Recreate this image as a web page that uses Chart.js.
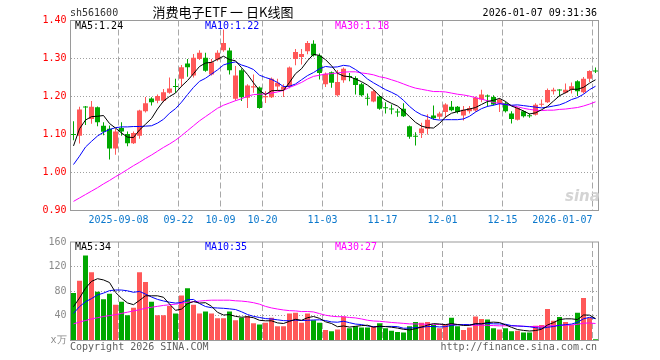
<!DOCTYPE html>
<html>
<head>
<meta charset="utf-8">
<script src="https://cdn.jsdelivr.net/npm/chart.js@4.4.1/dist/chart.umd.min.js"></script>
<style>
html,body{margin:0;padding:0;background:#fff;}
#wrap{position:relative;width:660px;height:360px;overflow:hidden;}
canvas{position:absolute;left:0;}
.t{position:absolute;font-family:"DejaVu Sans Mono",monospace;font-size:10px;line-height:12px;white-space:pre;z-index:2;}
</style>
</head>
<body>
<div id="wrap">
<canvas id="k" width="660" height="232" style="top:0"></canvas>
<canvas id="v" width="660" height="128" style="top:232px"></canvas>
<div class="t" style="left:70px;top:7px;color:#333">sh561600</div>
<div class="t" style="left:150px;top:4px;width:146px;text-align:center;font-family:'Noto Sans CJK SC';font-size:13px;line-height:16px;color:#000">消费电子ETF 一 日K线图</div>
<div class="t" style="right:63px;top:7px;color:#000">2026-01-07 09:31:36</div>
<div class="t" style="left:75px;top:20px;color:#000">MA5:1.24</div>
<div class="t" style="left:205px;top:20px;color:#0000ff">MA10:1.22</div>
<div class="t" style="left:335px;top:20px;color:#ff00ff">MA30:1.18</div>
<div class="t" style="left:75px;top:241px;color:#000">MA5:34</div>
<div class="t" style="left:205px;top:241px;color:#0000ff">MA10:35</div>
<div class="t" style="left:335px;top:241px;color:#ff00ff">MA30:27</div>
<div class="t" style="left:70px;top:341px;color:#606060">Copyright 2026 SINA.COM</div>
<div class="t" style="right:63px;top:341px;color:#606060">http://finance.sina.com.cn</div>
<div class="t" style="left:565px;top:187px;font-family:'DejaVu Sans';font-weight:bold;font-style:italic;font-size:15px;line-height:18px;color:#d4d4d4;z-index:1">sina</div>
</div>
<script>
const dates = ['2025-08-27','2025-08-28','2025-08-29','2025-09-01','2025-09-02','2025-09-03','2025-09-04','2025-09-05',
'2025-09-08','2025-09-09','2025-09-10','2025-09-11','2025-09-12','2025-09-15','2025-09-16','2025-09-17','2025-09-18','2025-09-19',
'2025-09-22','2025-09-23','2025-09-24','2025-09-25','2025-09-26','2025-09-29','2025-09-30','2025-10-09','2025-10-10',
'2025-10-13','2025-10-14','2025-10-15','2025-10-16','2025-10-17','2025-10-20','2025-10-21','2025-10-22','2025-10-23','2025-10-24',
'2025-10-27','2025-10-28','2025-10-29','2025-10-30','2025-10-31','2025-11-03','2025-11-04','2025-11-05','2025-11-06','2025-11-07',
'2025-11-10','2025-11-11','2025-11-12','2025-11-13','2025-11-14','2025-11-17','2025-11-18','2025-11-19','2025-11-20','2025-11-21',
'2025-11-24','2025-11-25','2025-11-26','2025-11-27','2025-11-28','2025-12-01','2025-12-02','2025-12-03','2025-12-04','2025-12-05',
'2025-12-08','2025-12-09','2025-12-10','2025-12-11','2025-12-12','2025-12-15','2025-12-16','2025-12-17','2025-12-18','2025-12-19',
'2025-12-22','2025-12-23','2025-12-24','2025-12-25','2025-12-26','2025-12-29','2025-12-30','2025-12-31','2026-01-05','2026-01-06','2026-01-07'];

const tickDates = ['2025-09-08','2025-09-22','2025-10-09','2025-10-20','2025-11-03','2025-11-17','2025-12-01','2025-12-15','2026-01-07'];
const tickTexts = ['2025-09-08','09-22','10-09','10-20','11-03','11-17','12-01','12-15','2026-01-07'];
const volGridDates = ['2025-09-08','2025-09-22','2025-10-20','2025-11-03','2025-11-17','2025-12-01','2025-12-15','2026-01-07'];

const opens = [1.101,1.097,1.173,1.141,1.172,1.123,1.115,1.063,1.117,1.101,
1.077,1.097,1.161,1.195,1.189,1.189,1.210,1.227,1.247,1.287,
1.255,1.299,1.302,1.258,1.297,1.322,1.321,1.194,1.269,1.197,
1.224,1.224,1.198,1.198,1.226,1.218,1.225,1.299,1.304,1.319,
1.339,1.308,1.232,1.264,1.203,1.243,1.253,1.249,1.232,1.195,
1.187,1.200,1.170,1.167,1.160,1.168,1.122,1.095,1.103,1.115,
1.150,1.147,1.159,1.173,1.173,1.150,1.161,1.163,1.192,1.202,
1.199,1.182,1.182,1.155,1.139,1.161,1.149,1.152,1.178,1.185,
1.214,1.218,1.210,1.217,1.240,1.211,1.247,1.268];
const highs = [1.135,1.173,1.175,1.188,1.174,1.132,1.124,1.115,1.132,1.108,
1.108,1.165,1.199,1.198,1.205,1.220,1.250,1.247,1.283,1.299,
1.312,1.322,1.315,1.299,1.322,1.376,1.328,1.280,1.274,1.232,
1.258,1.226,1.214,1.250,1.247,1.232,1.279,1.325,1.325,1.346,
1.348,1.313,1.263,1.266,1.270,1.276,1.262,1.253,1.236,1.208,
1.218,1.203,1.185,1.179,1.168,1.182,1.124,1.106,1.131,1.153,
1.176,1.160,1.182,1.188,1.175,1.175,1.175,1.200,1.218,1.205,
1.203,1.196,1.186,1.161,1.172,1.163,1.155,1.182,1.192,1.221,
1.223,1.219,1.234,1.237,1.243,1.251,1.269,1.276];
const lows = [1.085,1.076,1.125,1.128,1.122,1.098,1.034,1.047,1.097,1.069,
1.075,1.089,1.158,1.176,1.182,1.185,1.207,1.210,1.226,1.252,
1.250,1.296,1.265,1.255,1.293,1.318,1.258,1.189,1.188,1.170,
1.210,1.168,1.183,1.196,1.214,1.199,1.222,1.282,1.284,1.311,
1.305,1.245,1.225,1.223,1.200,1.236,1.240,1.205,1.200,1.176,
1.185,1.165,1.155,1.153,1.147,1.146,1.089,1.071,1.091,1.100,
1.139,1.140,1.144,1.161,1.155,1.137,1.155,1.160,1.185,1.173,
1.176,1.159,1.158,1.129,1.137,1.145,1.144,1.150,1.173,1.183,
1.205,1.200,1.208,1.208,1.201,1.208,1.238,1.262];
const closes = [1.099,1.166,1.171,1.173,1.132,1.107,1.063,1.108,1.108,1.077,
1.104,1.163,1.182,1.185,1.201,1.211,1.221,1.225,1.277,1.277,
1.302,1.315,1.268,1.290,1.315,1.341,1.269,1.255,1.198,1.229,
1.227,1.170,1.201,1.247,1.236,1.226,1.276,1.317,1.312,1.341,
1.308,1.262,1.260,1.236,1.238,1.273,1.251,1.230,1.203,1.194,
1.214,1.168,1.169,1.166,1.158,1.148,1.094,1.094,1.116,1.139,
1.143,1.155,1.179,1.164,1.159,1.165,1.170,1.197,1.205,1.200,
1.179,1.192,1.161,1.141,1.170,1.148,1.148,1.178,1.181,1.217,
1.218,1.216,1.218,1.227,1.214,1.247,1.267,1.266];

const ma5 = [1.070,1.115,1.138,1.147,1.148,1.150,1.129,1.117,1.104,1.093,
1.092,1.112,1.127,1.142,1.167,1.188,1.200,1.209,1.227,1.242,
1.260,1.279,1.288,1.290,1.298,1.306,1.297,1.294,1.276,1.258,
1.236,1.216,1.205,1.215,1.216,1.216,1.237,1.260,1.273,1.294,
1.311,1.308,1.297,1.281,1.261,1.254,1.252,1.246,1.239,1.230,
1.218,1.202,1.190,1.182,1.175,1.162,1.147,1.132,1.122,1.118,
1.117,1.129,1.146,1.156,1.160,1.164,1.167,1.171,1.179,1.187,
1.190,1.195,1.187,1.175,1.169,1.162,1.154,1.157,1.165,1.174,
1.188,1.202,1.210,1.219,1.219,1.224,1.235,1.244];
const ma10 = [1.021,1.043,1.067,1.082,1.096,1.106,1.113,1.118,1.120,1.120,
1.121,1.121,1.122,1.123,1.130,1.140,1.156,1.168,1.185,1.205,
1.224,1.240,1.248,1.259,1.270,1.283,1.288,1.291,1.283,1.278,
1.271,1.256,1.250,1.245,1.237,1.226,1.227,1.233,1.244,1.255,
1.263,1.273,1.279,1.277,1.278,1.282,1.280,1.271,1.260,1.246,
1.236,1.227,1.218,1.211,1.203,1.190,1.174,1.161,1.152,1.147,
1.140,1.138,1.139,1.139,1.139,1.141,1.148,1.159,1.168,1.174,
1.177,1.181,1.179,1.177,1.178,1.176,1.174,1.172,1.170,1.172,
1.175,1.178,1.184,1.192,1.197,1.206,1.218,1.227];
const ma30 = [0.924,0.933,0.942,0.951,0.960,0.970,0.979,0.989,0.998,1.008,
1.018,1.027,1.037,1.046,1.056,1.066,1.075,1.085,1.097,1.110,
1.123,1.136,1.147,1.158,1.169,1.177,1.183,1.189,1.194,1.201,
1.205,1.206,1.207,1.209,1.212,1.216,1.224,1.230,1.237,1.246,
1.253,1.256,1.259,1.260,1.262,1.264,1.265,1.265,1.262,1.260,
1.257,1.252,1.249,1.244,1.239,1.233,1.227,1.222,1.219,1.216,
1.213,1.213,1.212,1.209,1.206,1.204,1.201,1.197,1.193,1.189,
1.184,1.182,1.179,1.176,1.173,1.169,1.166,1.164,1.163,1.164,
1.164,1.166,1.167,1.169,1.171,1.175,1.180,1.186];

const volumes = [77,97,138,111,79,67,76,58,63,41,
53,111,95,63,41,41,56,44,73,85,
58,44,47,44,36,36,47,33,37,40,
28,26,29,37,23,23,44,45,29,44,
33,29,17,15,18,39,20,23,21,21,
23,28,20,16,14,13,23,30,29,30,
25,20,25,37,23,17,21,39,35,34,
20,18,20,15,16,13,13,24,25,51,
32,38,30,25,45,69,37,2];
const vma5 = [55,69,85,96,100.4,98.4,94.2,78.2,68.6,61.0,
58.2,65.2,72.6,72.6,72.6,70.2,59.2,49.0,51.0,59.8,
63.2,60.8,61.4,55.6,45.8,41.4,42.0,39.2,37.8,38.6,
37.0,32.8,32.0,32.0,28.6,27.6,31.2,34.4,32.8,37.0,
39.0,36.0,30.4,27.6,22.4,23.6,21.8,23.0,24.2,24.8,
21.6,23.2,22.6,21.6,20.2,18.2,17.2,19.2,21.8,25.0,
27.4,26.8,25.8,27.4,26.0,24.4,24.6,27.4,27.0,29.2,
29.8,29.2,25.4,21.4,17.8,16.4,15.4,16.2,18.2,25.2,
29.0,34.0,35.2,35.2,34.0,41.4,41.2,35.6];
const vma10 = [44,55,63,68,74,77,81,82,82,80.7,
78.3,79.7,75.4,70.6,66.8,64.2,62.2,60.8,61.8,66.2,
66.7,60.0,55.2,53.3,52.8,52.3,51.4,50.3,46.7,42.2,
39.2,37.4,35.6,34.9,33.6,32.3,32.0,33.2,32.4,32.8,
33.3,33.6,32.4,30.2,29.7,31.3,28.9,26.7,25.9,23.6,
22.6,22.5,22.8,22.9,22.5,19.9,20.2,20.9,21.7,22.6,
22.8,22.0,22.5,24.6,25.5,25.9,25.7,26.6,27.2,27.6,
27.1,26.9,26.4,24.2,23.5,23.1,22.3,20.8,19.8,21.5,
22.7,24.7,25.7,26.7,29.6,35.2,37.6,35.4];
const vma30 = [27,30,32.5,35,37,39,40.5,42,44,46,
48,50,52.5,54,55.5,57,58,59,60.5,62,
63,64,65,65.5,65.5,65.5,65.5,64.5,64.0,63.0,
61.4,59.0,55.4,52.9,51.1,49.6,48.5,48.1,47.0,47.1,
46.4,43.7,41.1,39.5,38.7,38.6,37.4,36.7,35.0,32.9,
31.7,31.2,30.3,29.3,28.6,27.8,27.0,26.9,26.7,26.3,
26.2,26.0,25.9,25.9,25.9,25.7,24.9,24.7,24.9,24.6,
24.2,23.8,23.9,23.9,23.8,23.0,22.7,22.8,22.9,23.9,
24.2,24.5,24.9,25.2,26.2,28.1,28.5,27.6];

const UP = '#ff5858', DOWN = '#00a800';
const CLEAR = 'rgba(0,0,0,0)';
const candleColor = closes.map((c, i) => c >= opens[i] ? UP : DOWN);
const monoFont = {family: 'DejaVu Sans Mono', size: 10};

const frame = {
  id: 'frame',
  afterDraw(chart) {
    const {ctx, chartArea: a} = chart;
    ctx.save();
    ctx.strokeStyle = '#9a9a9a';
    ctx.lineWidth = 1;
    ctx.strokeRect(a.left, a.top, a.right - a.left, a.bottom - a.top);
    ctx.restore();
  }
};

function lineDs(data, color) {
  return {type: 'line', data, borderColor: color, borderWidth: 1, pointRadius: 0, tension: 0, order: 0};
}

function xScale(gridDates, showTicks) {
  return {
    offset: true,
    grid: {
      offset: true, drawTicks: false, lineWidth: 1,
      color: ctx => (ctx.tick && gridDates.includes(dates[ctx.index])) ? '#a8a8a8' : CLEAR
    },
    border: {display: false, dash: [6, 3]},
    ticks: {
      display: showTicks, autoSkip: false, maxRotation: 0, minRotation: 0,
      align: 'inner', labelOffset: -3, padding: 4, color: '#0b78cc', font: monoFont,
      callback: (v, i) => { const k = tickDates.indexOf(dates[i]); return k >= 0 ? tickTexts[k] : ''; }
    }
  };
}

new Chart(document.getElementById('k'), {
  type: 'bar',
  data: {
    labels: dates,
    datasets: [
      lineDs(ma5, '#000000'),
      lineDs(ma10, '#0000ff'),
      lineDs(ma30, '#ff00ff'),
      {data: opens.map((o, i) => [o, closes[i]]), backgroundColor: candleColor, barThickness: 5,
       minBarLength: 1, grouped: false, inflateAmount: 0, order: 1},
      {data: lows.map((l, i) => [l, highs[i]]), backgroundColor: candleColor, barThickness: 1,
       minBarLength: 1, grouped: false, inflateAmount: 0, order: 2}
    ]
  },
  options: {
    responsive: false, animation: false, events: [],
    layout: {padding: {top: 20.5, right: 61.5, left: 0, bottom: 0}},
    plugins: {legend: {display: false}, tooltip: {enabled: false}},
    scales: {
      x: Object.assign(xScale(tickDates, true), {afterFit: s => { s.height = 21.5; }}),
      y: {
        min: 0.9, max: 1.4,
        ticks: {stepSize: 0.1, color: '#ff0000', padding: 4, font: monoFont, callback: v => v.toFixed(2)},
        grid: {drawTicks: false, lineWidth: 1,
          color: ctx => (!ctx.tick || ctx.tick.value < 0.95 || ctx.tick.value > 1.35) ? CLEAR : '#a0a0a0'},
        border: {display: false, dash: [1, 2]},
        afterFit: s => { s.width = 70.5; }
      }
    }
  },
  plugins: [frame]
});

new Chart(document.getElementById('v'), {
  type: 'bar',
  data: {
    labels: dates,
    datasets: [
      lineDs(vma5, '#000000'),
      lineDs(vma10, '#0000ff'),
      lineDs(vma30, '#ff00ff'),
      {data: volumes, backgroundColor: candleColor, barThickness: 5, grouped: false, inflateAmount: 0, order: 1}
    ]
  },
  options: {
    responsive: false, animation: false, events: [],
    layout: {padding: {top: 8.5, right: 61.5, left: 0, bottom: 0}},
    plugins: {legend: {display: false}, tooltip: {enabled: false}},
    scales: {
      x: Object.assign(xScale(volGridDates, false), {afterFit: s => { s.height = 19.5; }}),
      y: {
        min: 0, max: 160,
        ticks: {stepSize: 40, color: '#8a8a8a', padding: 4, font: monoFont,
          callback: v => v === 0 ? 'x万' : String(v)},
        grid: {drawTicks: false, lineWidth: 1,
          color: ctx => (!ctx.tick || ctx.tick.value <= 0 || ctx.tick.value >= 160) ? CLEAR : '#a0a0a0'},
        border: {display: false, dash: [1, 2]},
        afterFit: s => { s.width = 70.5; }
      }
    }
  },
  plugins: [frame]
});
</script>
</body>
</html>
